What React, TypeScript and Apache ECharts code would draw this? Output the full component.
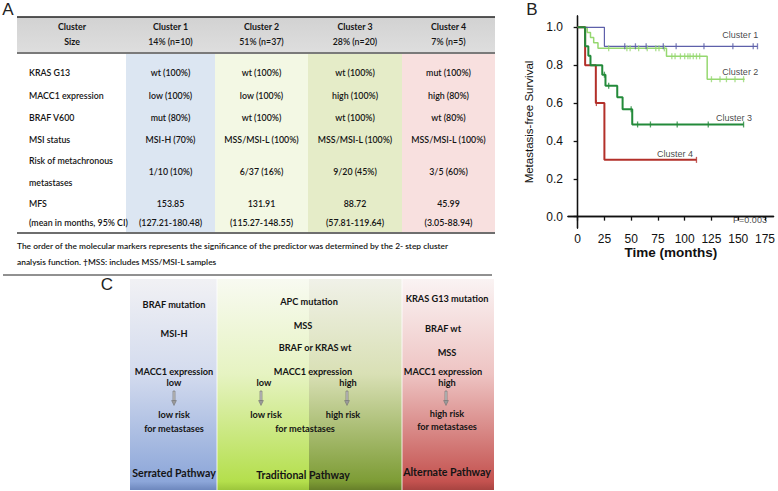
import React, { useEffect, useRef } from "react";
import * as echarts from "echarts";

// ---------- Panel B: Kaplan-Meier data ----------
const clusterNames = ["Cluster 1", "Cluster 2", "Cluster 3", "Cluster 4"];
const cluster1Steps = [[0, 1], [25, 0.9], [168, 0.9]];
const cluster1Censor = [44, 54, 64, 80, 92, 118, 145, 164, 168];
const cluster2Steps = [[0, 1], [9, 0.973], [12, 0.946], [15, 0.919], [19, 0.889], [83, 0.847], [121, 0.726], [156, 0.726]];
const cluster2Censor = [29, 46, 49, 57, 65, 73, 76, 81, 88, 91, 96, 100, 103, 105, 108, 111, 114, 125, 133, 139, 147, 155];
const cluster3Steps = [[0, 1], [7, 0.9], [10, 0.85], [12, 0.8], [23, 0.75], [26, 0.692], [37, 0.631], [42, 0.568], [51, 0.487], [155, 0.487]];
const cluster3Censor = [25, 29, 50, 56, 68, 93, 122, 155];
const cluster4Steps = [[0, 1], [7, 0.8], [17, 0.6], [25, 0.3], [111, 0.3]];
const cluster4Censor = [17.5, 111];
const xTicks = [0, 25, 50, 75, 100, 125, 150, 175];
const yTicks = [0, 0.2, 0.4, 0.6, 0.8, 1.0];
const labelPositions = [[152, 0.96], [152, 0.765], [146, 0.52], [91, 0.33]];
const pValueText = "P=0.003";
const pValuePosition = [161, -0.02];

// ---------- Panel A: table data ----------
const tableHeader = ["Cluster", "Size"];
const clusterSizes = ["14% (n=10)", "51% (n=37)", "28% (n=20)", "7% (n=5)"];
const krasValues = ["wt (100%)", "wt (100%)", "wt (100%)", "mut (100%)"];
const macc1Values = ["low (100%)", "low (100%)", "high (100%)", "high (80%)"];
const brafValues = ["mut (80%)", "wt (100%)", "wt (100%)", "wt (80%)"];
const msiValues = ["MSI-H (70%)", "MSS/MSI-L (100%)", "MSS/MSI-L (100%)", "MSS/MSI-L (100%)"];
const riskValues = ["1/10 (10%)", "6/37 (16%)", "9/20 (45%)", "3/5 (60%)"];
const mfsMeans = ["153.85", "131.91", "88.72", "45.99"];
const mfsCI = ["(127.21-180.48)", "(115.27-148.55)", "(57.81-119.64)", "(3.05-88.94)"];
const rowLabels = ["KRAS G13", "MACC1 expression", "BRAF V600", "MSI status"];
const footnotes = [
  "The order of the molecular markers represents the significance of the predictor was determined by the 2- step cluster",
  "analysis function. \u2020MSS: includes MSS/MSI-L samples",
];

// ---------- Panel C: pathway texts ----------
const serratedTexts = ["BRAF mutation", "MSI-H", "MACC1 expression", "low", "low risk", "for metastases", "Serrated Pathway"];
const traditionalTexts = ["APC mutation", "MSS", "BRAF or KRAS wt", "MACC1 expression", "low", "high", "low risk", "high risk", "for metastases", "Traditional Pathway"];
const alternateTexts = ["KRAS G13 mutation", "BRAF wt", "MSS", "MACC1 expression", "high", "high risk", "for metastases", "Alternate Pathway"];

const kmColors = ["#5e60aa", "#96d870", "#238a3a", "#b3302a"];
const kmWidths = [1.2, 1.5, 2, 2];

function levelAt(steps: number[][], t: number) {
  let v = steps[0][1];
  for (const s of steps) if (s[0] <= t) v = s[1];
  return v;
}

const BODY = "Lato, 'Open Sans', sans-serif";

function txt(text: string, x: number, y: number, font: string, align = "center", fill = "#141414") {
  return { type: "text", x, y, silent: true, z: 10, style: { text, fill, font, align, verticalAlign: "middle" } };
}
function grad(stops: [number, string][]) {
  return new echarts.graphic.LinearGradient(0, 0, 0, 1, stops.map(([offset, color]) => ({ offset, color })));
}

function buildGraphics() {
  const g: any[] = [];
  // panel letters
  g.push(txt("A", 8, 9, "17px 'Liberation Sans'", "center", "#222"));
  g.push(txt("B", 532, 9, "17px 'Liberation Sans'", "center", "#222"));
  g.push(txt("C", 107, 284, "17px 'Liberation Sans'", "center", "#222"));

  // ---- table ----
  const L = 17, R = 495, top = 17, hb = 53, bot = 233;
  const edges = [126, 215, 308, 402, 495];
  const bg = ["#dce6f2", "#f3f8e4", "#e5ecc8", "#f8e0df"];
  g.push({ type: "rect", shape: { x: L, y: top, width: R - L, height: hb - top }, style: { fill: grad([[0, "#d2d2d2"], [1, "#dedede"]]) }, silent: true });
  for (let i = 0; i < 4; i++) {
    g.push({ type: "rect", shape: { x: edges[i], y: hb, width: edges[i + 1] - edges[i], height: bot - hb }, style: { fill: bg[i] }, silent: true });
  }
  g.push({ type: "line", shape: { x1: L, y1: top, x2: R, y2: top }, style: { stroke: "#222", lineWidth: 1.6 }, silent: true });
  g.push({ type: "line", shape: { x1: L, y1: hb, x2: R, y2: hb }, style: { stroke: "#7a7a7a", lineWidth: 2 }, silent: true });
  g.push({ type: "line", shape: { x1: L, y1: bot, x2: R, y2: bot }, style: { stroke: "#6e6e6e", lineWidth: 2.2 }, silent: true });

  const HF = `bold 8.8px ${BODY}`;
  const BF = `600 8.8px ${BODY}`;
  const labelX = 29;
  const centers = [0, 1, 2, 3].map((i) => (edges[i] + edges[i + 1]) / 2);
  g.push(txt(tableHeader[0], 72, 26, HF));
  g.push(txt(tableHeader[1], 72, 41, HF));
  for (let i = 0; i < 4; i++) {
    g.push(txt(clusterNames[i], centers[i], 26, HF));
    g.push(txt(clusterSizes[i], centers[i], 41, BF));
  }
  const rowY = [72, 95, 117, 139];
  const rowVals = [krasValues, macc1Values, brafValues, msiValues];
  rowY.forEach((y, r) => {
    g.push(txt(rowLabels[r], labelX, y, BF, "left"));
    for (let i = 0; i < 4; i++) g.push(txt(rowVals[r][i], centers[i], y, BF));
  });
  g.push(txt("Risk of metachronous", labelX, 160, BF, "left"));
  g.push(txt("metastases", labelX, 182, BF, "left"));
  g.push(txt("MFS", labelX, 203, BF, "left"));
  g.push(txt("(mean in months, 95% CI)", labelX, 222, BF, "left"));
  for (let i = 0; i < 4; i++) {
    g.push(txt(riskValues[i], centers[i], 171, BF));
    g.push(txt(mfsMeans[i], centers[i], 203, BF));
    g.push(txt(mfsCI[i], centers[i], 222, BF));
  }
  g.push(txt(footnotes[0], L, 246, `600 8.4px ${BODY}`, "left"));
  g.push(txt(footnotes[1], L, 262, `600 8.4px ${BODY}`, "left"));
  g.push({ type: "line", shape: { x1: 3, y1: 275, x2: 492, y2: 275 }, style: { stroke: "#222", lineWidth: 1 }, silent: true });

  // ---- pathway diagram ----
  const pt = 279, pb = 490;
  const panels: [number, number, [number, string][]][] = [
    [130, 217, [[0, "#f1f1f4"], [0.45, "#d3dbee"], [0.96, "#8ca6d9"], [1, "#6d87bd"]]],
    [217, 309, [[0, "#f8faf1"], [0.45, "#e6f3c2"], [0.96, "#b4df4c"], [1, "#9cc63c"]]],
    [309, 402, [[0, "#f0f1e8"], [0.45, "#d9e0b5"], [0.96, "#7d9c35"], [1, "#677f2a"]]],
    [402, 494, [[0, "#faf3f3"], [0.45, "#eec4c3"], [0.96, "#c4524f"], [1, "#a74441"]]],
  ];
  panels.forEach(([x0, x1, stops]) => {
    g.push({ type: "rect", shape: { x: x0, y: pt, width: x1 - x0, height: pb - pt }, style: { fill: grad(stops) }, silent: true });
  });
  [217, 402].forEach((x) => g.push({ type: "line", shape: { x1: x, y1: pt, x2: x, y2: pb }, style: { stroke: "rgba(255,255,255,0.7)", lineWidth: 1.2 }, silent: true }));

  const DF = `bold 9.2px ${BODY}`;
  const TF = `bold 10.6px ${BODY}`;
  const arrow = (x: number) => {
    g.push({ type: "rect", shape: { x: x - 1, y: 391, width: 2, height: 10 }, style: { fill: "#c8c8c8", stroke: "#6a6a6a", lineWidth: 0.6 }, silent: true, z: 10 });
    g.push({ type: "polygon", shape: { points: [[x - 2.4, 400.5], [x + 2.4, 400.5], [x, 405.5]] }, style: { fill: "#9a9a9a", stroke: "#6a6a6a", lineWidth: 0.5 }, silent: true, z: 10 });
  };
  // serrated
  const sx = 174;
  const sY = [304, 333, 371, 382, 414, 428];
  sY.forEach((y, i) => g.push(txt(serratedTexts[i], sx, y, DF)));
  arrow(sx);
  g.push(txt(serratedTexts[6], 174, 473, TF));
  // traditional
  g.push(txt(traditionalTexts[0], 309, 301, DF));
  g.push(txt(traditionalTexts[1], 303, 325, DF));
  g.push(txt(traditionalTexts[2], 315, 347, DF));
  g.push(txt(traditionalTexts[3], 313, 371, DF));
  g.push(txt(traditionalTexts[4], 264, 382, DF));
  g.push(txt(traditionalTexts[5], 348, 382, DF));
  arrow(261);
  arrow(347);
  g.push(txt(traditionalTexts[6], 266, 414, DF));
  g.push(txt(traditionalTexts[7], 343, 414, DF));
  g.push(txt(traditionalTexts[8], 305, 428, DF));
  g.push(txt(traditionalTexts[9], 303, 475, TF));
  // alternate
  const aY = [298, 328, 352, 371, 382, 413, 426];
  const aX = [447, 443, 447, 443, 447, 447, 447];
  aY.forEach((y, i) => g.push(txt(alternateTexts[i], aX[i], y, DF)));
  arrow(446);
  g.push(txt(alternateTexts[7], 447, 472, TF));
  return g;
}

function buildOption() {
  const steps = [cluster1Steps, cluster2Steps, cluster3Steps, cluster4Steps];
  const censors = [cluster1Censor, cluster2Censor, cluster3Censor, cluster4Censor];
  const series: any[] = [];
  [1, 0, 3, 2].forEach((i) => {
    series.push({
      type: "line", step: "end", name: clusterNames[i], data: steps[i], showSymbol: false, silent: true,
      lineStyle: { color: kmColors[i], width: kmWidths[i] }, z: 3,
    });
    series.push({
      type: "scatter", data: censors[i].map((t) => [t, levelAt(steps[i], t)]), symbol: "rect", symbolSize: [1.3, 6],
      itemStyle: { color: kmColors[i] }, silent: true, z: 4,
    });
  });
  series.push({
    type: "scatter", symbolSize: 0, silent: true, z: 5,
    data: [
      ...labelPositions.map((p, i) => ({ value: p, name: clusterNames[i] })),
      { value: pValuePosition, name: pValueText },
    ],
    label: { show: true, position: "inside", formatter: "{b}", color: "#111", fontSize: 9, fontFamily: "'Liberation Sans', Arial" },
  });
  const axisFont = { fontFamily: "'Liberation Sans', Arial", color: "#111" };
  return {
    animation: false,
    grid: { left: 568, top: 16, width: 208, height: 212 },
    xAxis: [
      {
        type: "value", min: -9, max: 183, position: "bottom",
        axisLine: { show: true, lineStyle: { color: "#111", width: 1.3 } },
        axisTick: { show: true, customValues: xTicks, length: 4, lineStyle: { color: "#111", width: 1.3 } },
        axisLabel: { customValues: xTicks, fontSize: 12, margin: 5, ...axisFont },
        splitLine: { show: false },
        name: "Time (months)", nameLocation: "middle", nameGap: 13,
        nameTextStyle: { fontSize: 13.5, fontWeight: "bold", ...axisFont },
      },
      {
        type: "value", min: -9, max: 183, position: "top",
        axisLine: { show: true, lineStyle: { color: "#111", width: 1.3 } },
        axisTick: { show: false }, axisLabel: { show: false }, splitLine: { show: false },
      },
    ],
    yAxis: [
      {
        type: "value", min: -0.06, max: 1.06, position: "left",
        axisLine: { show: true, lineStyle: { color: "#111", width: 1.3 } },
        axisTick: { show: true, customValues: yTicks, length: 4, lineStyle: { color: "#111", width: 1.3 } },
        axisLabel: { customValues: yTicks, fontSize: 12, margin: 5, formatter: (v: number) => v.toFixed(1), ...axisFont },
        splitLine: { show: false },
        name: "Metastasis-free Survival", nameLocation: "middle", nameGap: 33,
        nameTextStyle: { fontSize: 11.5, ...axisFont },
      },
      {
        type: "value", min: -0.06, max: 1.06, position: "right",
        axisLine: { show: true, lineStyle: { color: "#111", width: 1.3 } },
        axisTick: { show: false }, axisLabel: { show: false }, splitLine: { show: false },
      },
    ],
    series,
    graphic: buildGraphics(),
  };
}

export default function App() {
  const ref = useRef<HTMLDivElement>(null);
  useEffect(() => {
    if (!ref.current) return;
    const chart = echarts.init(ref.current, undefined, { renderer: "svg" });
    chart.setOption(buildOption() as any);
    return () => chart.dispose();
  }, []);
  return (
    <div
      ref={ref}
      style={{ position: "absolute", left: 0, top: 0, width: 778, height: 491, background: "#fff" }}
    />
  );
}
